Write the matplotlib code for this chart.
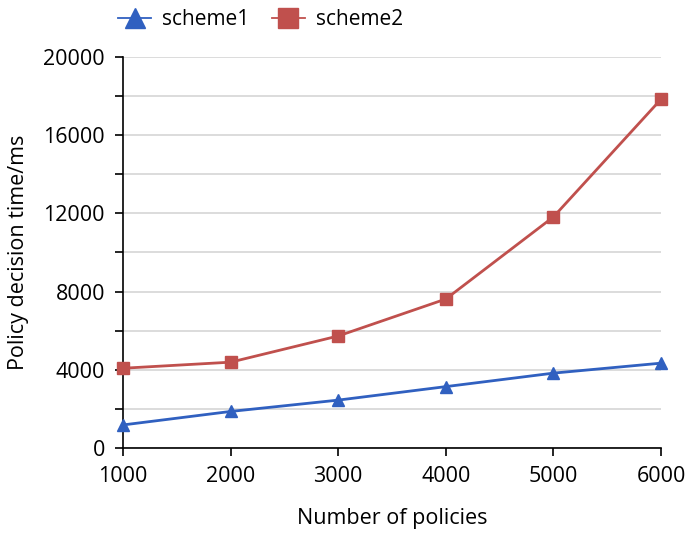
import matplotlib
matplotlib.use("Agg")
import matplotlib.pyplot as plt
from matplotlib.ticker import MultipleLocator

plt.rcParams['font.family'] = ['Open Sans', 'DejaVu Sans']

policies = [1000, 2000, 3000, 4000, 5000, 6000]
scheme1 = [1180, 1870, 2450, 3140, 3830, 4340]
scheme2 = [4080, 4390, 5730, 7620, 11820, 17840]
yticks = [0, 4000, 8000, 12000, 16000, 20000]

fig = plt.figure(figsize=(6.85, 5.35), dpi=100)
ax = fig.add_axes([0.1796, 0.1626, 0.7854, 0.7309])

ax.plot(policies, scheme1, color='#3060c0', lw=2.0, marker='^', ms=9, label='scheme1', clip_on=False, zorder=3)
ax.plot(policies, scheme2, color='#c0504d', lw=2.0, marker='s', ms=8, label='scheme2', clip_on=False, zorder=3)

ax.set_xlim(1000, 6000)
ax.set_ylim(0, 20000)
ax.set_xticks(policies)
ax.set_yticks(yticks)
ax.yaxis.set_minor_locator(MultipleLocator(2000))
ax.grid(axis='y', which='both', color='#d9d9d9', lw=1.3, zorder=0)
ax.set_axisbelow(True)
for s in ['top', 'right']:
    ax.spines[s].set_visible(False)
for s in ['left', 'bottom']:
    ax.spines[s].set_color('#000000')
    ax.spines[s].set_linewidth(1.2)
ax.tick_params(axis='both', which='both', direction='out', length=6, width=1.2, labelsize=15.5, color='#000000')
ax.tick_params(axis='y', pad=7)
ax.tick_params(axis='x', pad=7)

ax.set_xlabel('Number of policies', fontsize=15.5, labelpad=15)
ax.set_ylabel('Policy decision time/ms', fontsize=15.5, labelpad=10)

leg = fig.legend(loc='upper center', bbox_to_anchor=(0.38, 1.018), ncol=2, frameon=False, fontsize=15,
                 handlelength=1.6, columnspacing=1.1, handletextpad=0.5)
for h in leg.legend_handles:
    h.set_linewidth(1.3)
    h.set_markersize(14)

fig.savefig('out.png', dpi=100)
